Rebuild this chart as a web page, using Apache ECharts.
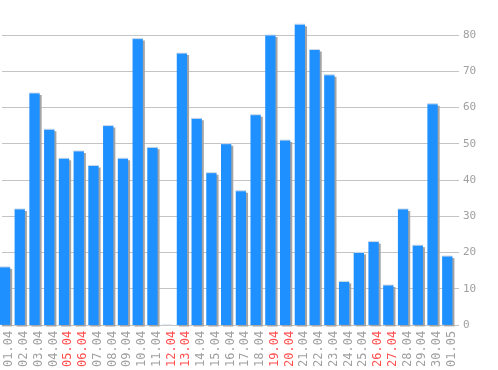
<!DOCTYPE html>
<html>
<head>
<meta charset="utf-8">
<script src="https://cdn.jsdelivr.net/npm/echarts@6/dist/echarts.min.js"></script>
<style>
html,body{margin:0;padding:0;background:#fff;}
#chart{width:498px;height:370px;}
</style>
</head>
<body>
<div id="chart"></div>
<script>
const categories = ['01.04','02.04','03.04','04.04','05.04','06.04','07.04','08.04','09.04','10.04','11.04','12.04','13.04','14.04','15.04','16.04','17.04','18.04','19.04','20.04','21.04','22.04','23.04','24.04','25.04','26.04','27.04','28.04','29.04','30.04','01.05'];
const values = [16,32,64,54,46,48,44,55,46,79,49,0,75,57,42,50,37,58,80,51,83,76,69,12,20,23,11,32,22,61,19];
const holidays = ['05.04','06.04','12.04','13.04','19.04','20.04','26.04','27.04'];
const yTicks = [0,10,20,30,40,50,60,70,80];

const chart = echarts.init(document.getElementById('chart'), null, {renderer:'canvas'});
chart.setOption({
  animation: false,
  grid: {left: 2, right: 39, top: 35, bottom: 45, containLabel: false},
  xAxis: {
    type: 'category',
    data: categories,
    axisLine: {show: false},
    axisTick: {show: false},
    splitLine: {show: false},
    axisLabel: {
      interval: 0,
      rotate: 90,
      margin: 6,
      fontFamily: 'DejaVu Sans Mono',
      fontSize: 12,
      color: function (v) { return holidays.indexOf(v) >= 0 ? '#ff5050' : '#a0a0a0'; }
    }
  },
  yAxis: {
    type: 'value',
    position: 'right',
    min: yTicks[0],
    max: yTicks[yTicks.length - 1],
    interval: 10,
    axisLine: {show: false},
    axisTick: {show: false},
    splitLine: {show: true, lineStyle: {color: '#c4c4c4', width: 1}},
    axisLabel: {
      margin: 4,
      fontFamily: 'DejaVu Sans Mono',
      fontSize: 11,
      color: '#a0a0a0'
    }
  },
  series: [{
    type: 'custom',
    clip: false,
    data: values.map((v, i) => [i, v]),
    renderItem: function (params, api) {
      const top = api.coord([api.value(0), api.value(1)]);
      const base = api.coord([api.value(0), 0]);
      const left = top[0] - 9.5;
      const w = 10.3;
      const h = base[1] - top[1];
      return {
        type: 'group',
        children: [
          {type: 'rect', shape: {x: left + 2, y: top[1] + 2, width: w, height: Math.max(h - 0.5, 0)}, style: {fill: '#a4a4a4'}},
          {type: 'rect', shape: {x: left, y: top[1], width: w, height: h}, style: {fill: '#1e90ff'}},
          {type: 'rect', shape: {x: left, y: top[1] - 0.5, width: w, height: 1}, style: {fill: '#d0dae6'}}
        ]
      };
    }
  }]
});
</script>
</body>
</html>
